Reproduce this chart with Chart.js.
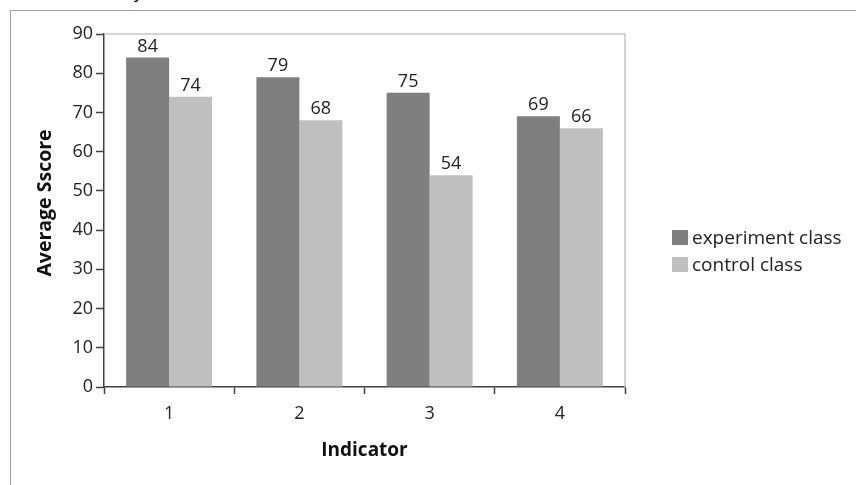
<!DOCTYPE html>
<html>
<head>
<meta charset="utf-8">
<script src="https://cdn.jsdelivr.net/npm/chart.js@4/dist/chart.umd.min.js"></script>
<style>
  html, body { margin: 0; padding: 0; background: #fff; overflow: hidden; }
  #wrap { position: relative; width: 856px; height: 485px; font-family: "Open Sans", "Noto Sans", sans-serif; }
  #frame { position: absolute; left: 10px; top: 10px; width: 900px; height: 600px;
           border-left: 1.5px solid #a0a0a0; border-top: 1.5px solid #a0a0a0; }
  #cut { position: absolute; left: 134px; top: -21px; font-size: 18px; color: #000; }
  #chart { position: absolute; left: 0; top: 0; }
  .legend { position: absolute; left: 672px; font-size: 19px; color: #222; line-height: 22px; white-space: nowrap; }
  .legend i { display: inline-block; width: 16px; height: 15px; vertical-align: -1px; margin-right: 4px; }
</style>
</head>
<body>
<div id="wrap">
  <div id="cut">y</div>
  <div id="frame"></div>
  <canvas id="chart" width="856" height="485"></canvas>
  <div class="legend" style="top:226px"><i style="background:#7f7f7f"></i>experiment class</div>
  <div class="legend" style="top:253px"><i style="background:#bfbfbf"></i>control class</div>
</div>
<script>
/* Average score per indicator, experiment vs control class */

const indicators = ['1', '2', '3', '4'];
const experimentScores = [84, 79, 75, 69];
const controlScores = [74, 68, 54, 66];
const yTicks = [0, 10, 20, 30, 40, 50, 60, 70, 80, 90];

const FONT = '"Open Sans", "Noto Sans", sans-serif';
const AXIS = '#404040';

// light grey box on the top and right of the plot area
const plotFrame = {
  id: 'plotFrame',
  beforeDatasetsDraw(chart) {
    const { ctx, chartArea: a } = chart;
    ctx.save();
    ctx.strokeStyle = '#c6c6c6';
    ctx.lineWidth = 1.5;
    ctx.beginPath();
    ctx.moveTo(a.left, a.top);
    ctx.lineTo(a.right, a.top);
    ctx.lineTo(a.right, a.bottom);
    ctx.stroke();
    ctx.restore();
  }
};

// numbers above each bar
const valueLabels = {
  id: 'valueLabels',
  afterDatasetsDraw(chart) {
    const ctx = chart.ctx;
    ctx.save();
    ctx.font = '18px ' + FONT;
    ctx.fillStyle = '#222';
    ctx.textAlign = 'center';
    ctx.textBaseline = 'alphabetic';
    chart.data.datasets.forEach((ds, i) => {
      chart.getDatasetMeta(i).data.forEach((bar, j) => {
        ctx.fillText(String(ds.data[j]), bar.x, bar.y - 6);
      });
    });
    ctx.restore();
  }
};

// axis titles
const axisTitles = {
  id: 'axisTitles',
  afterDraw(chart) {
    const { ctx, chartArea: a } = chart;
    ctx.save();
    ctx.fillStyle = '#111';
    ctx.textAlign = 'center';
    ctx.textBaseline = 'middle';
    ctx.font = 'bold 19px ' + FONT;
    ctx.fillText('Indicator', (a.left + a.right) / 2, 451);
    ctx.translate(45, 203);
    ctx.rotate(-Math.PI / 2);
    ctx.font = 'bold 19.5px ' + FONT;
    ctx.fillText('Average Sscore', 0, 0);
    ctx.restore();
  }
};

new Chart(document.getElementById('chart'), {
  type: 'bar',
  data: {
    labels: indicators,
    datasets: [
      { label: 'experiment class', data: experimentScores, backgroundColor: '#7f7f7f',
        categoryPercentage: 0.66, barPercentage: 1.0 },
      { label: 'control class', data: controlScores, backgroundColor: '#bfbfbf',
        categoryPercentage: 0.66, barPercentage: 1.0 }
    ]
  },
  options: {
    responsive: false,
    animation: false,
    layout: { padding: { left: 0, top: 34, right: 231, bottom: 0 } },
    plugins: { legend: { display: false }, tooltip: { enabled: false } },
    scales: {
      x: {
        offset: true,
        grid: { offset: true, drawOnChartArea: false, drawTicks: true, tickLength: 7,
                tickColor: AXIS, tickWidth: 1.5 },
        border: { color: AXIS, width: 1.5 },
        ticks: { color: '#222', font: { family: FONT, size: 18 }, padding: 9 },
        afterFit(scale) { scale.height = 98; }
      },
      y: {
        min: 0,
        max: 90,
        afterBuildTicks(scale) { scale.ticks = yTicks.map(v => ({ value: v })); },
        grid: { drawOnChartArea: false, drawTicks: true, tickLength: 8,
                tickColor: AXIS, tickWidth: 1.5 },
        border: { color: AXIS, width: 1.5 },
        ticks: { color: '#222', font: { family: FONT, size: 18 }, padding: 3 },
        afterFit(scale) { scale.width = 104; }
      }
    }
  },
  plugins: [plotFrame, valueLabels, axisTitles]
});
</script>
</body>
</html>
